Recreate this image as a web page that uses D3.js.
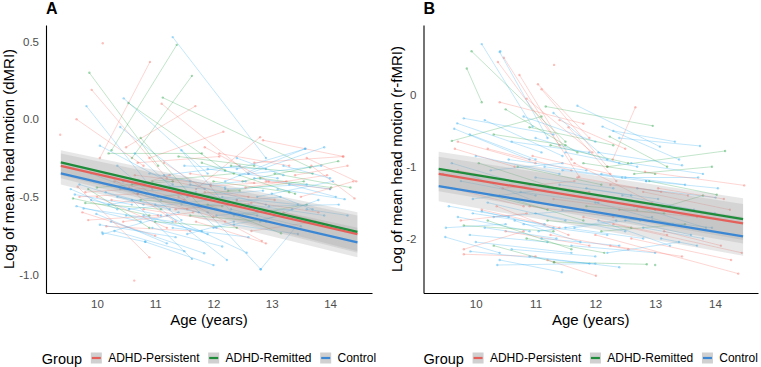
<!DOCTYPE html>
<html>
<head>
<meta charset="utf-8">
<script src="https://cdn.jsdelivr.net/npm/d3@7"></script>
<style>
  body { margin: 0; background: #fff; }
  svg { display: block; font-family: "Liberation Sans", Arial, sans-serif; }
</style>
</head>
<body>
<svg width="761" height="367"></svg>
<script>
// groups and legend labels
const groupKeys = ["P", "R", "C"];
const groupLabels = ["ADHD-Persistent", "ADHD-Remitted", "Control"];

// tick labels
const ageTicks = [10, 11, 12, 13, 14];
const dmriTicks = [0.5, 0.0, -0.5, -1.0];
const rfmriTicks = [0, -1, -2];

// model fit: value at first and last age
const fitAges = [9.38, 14.47];
const dmriFit = { P: [-0.300, -0.740], R: [-0.278, -0.726], C: [-0.349, -0.794] };
const rfmriFit = { P: [-1.10, -1.79], R: [-1.03, -1.73], C: [-1.27, -1.97] };

// confidence bands: [upper, lower] at first and last age
const dmriBand = {
  P: [[-0.22, -0.38], [-0.62, -0.86]],
  R: [[-0.20, -0.36], [-0.60, -0.85]],
  C: [[-0.28, -0.42], [-0.70, -0.89]]
};
const rfmriBand = {
  P: [[-0.86, -1.34], [-1.52, -2.07]],
  R: [[-0.79, -1.27], [-1.44, -2.02]],
  C: [[-1.03, -1.48], [-1.70, -2.24]]
};

// subjects: group, age1, value1, age2, value2 (null = one scan only)
const dmriSubjects = [
  ["P", 10.10, 0.49, null, null], ["P", 9.37, -0.10, null, null], ["P", 10.64, -1.04, null, null],
  ["C", 11.30, 0.53, 12.90, -0.25], ["R", 10.25, -0.20, 11.37, 0.48], ["R", 10.60, -0.25, 11.63, 0.28],
  ["P", 10.05, -0.25, 10.91, 0.37], ["R", 9.87, 0.30, 11.05, -0.30], ["P", 9.91, 0.19, 11.20, -0.38],
  ["C", 9.82, 0.085, 10.95, -0.45], ["P", 9.65, 0.00, 10.80, -0.30], ["C", 10.46, 0.135, 11.90, -0.35],
  ["R", 10.54, 0.105, 12.20, -0.33], ["R", 11.13, 0.14, 13.66, -0.31], ["P", 11.11, 0.10, 12.60, -0.35],
  ["P", 10.50, -0.18, 11.69, 0.085], ["P", 10.90, -0.25, 12.17, -0.08], ["P", 11.70, -0.45, 12.80, -0.115],
  ["P", 12.85, -0.135, 14.23, -0.24], ["C", 12.20, -0.40, 13.57, -0.19], ["C", 12.60, -0.35, 13.90, -0.18],
  ["C", 12.40, -0.32, 13.58, -0.19], ["P", 12.70, -0.28, 14.22, -0.24], ["R", 12.50, -0.40, 14.14, -0.27],
  ["P", 13.60, -0.25, 14.45, -0.40], ["P", 13.68, -0.30, 14.42, -0.51], ["C", 13.10, -0.45, 14.25, -0.515],
  ["R", 12.80, -0.38, 14.02, -0.44], ["C", 10.40, -0.05, 11.60, -0.40], ["C", 10.05, -0.17, 11.30, -0.42],
  ["R", 10.20, -0.22, 11.80, -0.22], ["P", 10.70, -0.28, 12.10, -0.24], ["C", 11.50, -0.30, 12.90, -0.32],
  ["R", 11.80, -0.28, 13.40, -0.48], ["P", 12.10, -0.22, 13.30, -0.30], ["C", 9.62, -0.485, 10.60, -0.55],
  ["R", 9.59, -0.51, 10.90, -0.62], ["P", 9.67, -0.435, 10.90, -0.89], ["C", 9.77, -0.575, 11.30, -0.66],
  ["C", 9.99, -0.61, 11.20, -0.80], ["P", 10.16, -0.69, 11.60, -0.72], ["C", 10.10, -0.74, 11.40, -0.60],
  ["C", 10.24, -0.66, 11.84, -0.864], ["P", 9.70, -0.50, 10.70, -0.48], ["R", 9.80, -0.54, 11.10, -0.58],
  ["C", 10.09, -0.73, 10.83, -0.79], ["C", 10.83, -0.79, 12.00, -0.94], ["C", 10.60, -0.52, 11.63, -0.90],
  ["C", 11.00, -0.55, 12.23, -0.907], ["C", 11.20, -0.62, 12.57, -0.86], ["C", 11.90, -0.60, 12.81, -0.967],
  ["C", 12.81, -0.967, 13.40, -0.70], ["P", 11.40, -0.50, 12.83, -0.785], ["R", 11.90, -0.55, 13.16, -0.735],
  ["C", 12.30, -0.58, 13.50, -0.69], ["P", 10.30, -0.40, 11.50, -0.52], ["C", 10.40, -0.45, 11.70, -0.47],
  ["R", 10.60, -0.42, 11.90, -0.50], ["P", 10.80, -0.58, 12.20, -0.66], ["C", 11.10, -0.45, 12.40, -0.52],
  ["P", 11.30, -0.40, 12.60, -0.50], ["C", 11.60, -0.42, 12.90, -0.55], ["R", 12.00, -0.40, 13.30, -0.47],
  ["C", 12.20, -0.45, 13.60, -0.42], ["P", 12.40, -0.52, 13.80, -0.60], ["C", 12.60, -0.55, 13.90, -0.62],
  ["P", 12.90, -0.40, 14.00, -0.45], ["C", 13.00, -0.48, 13.70, -0.58], ["R", 9.85, -0.45, 10.90, -0.70],
  ["P", 10.00, -0.50, 11.20, -0.70], ["C", 10.20, -0.55, 11.40, -0.48], ["C", 10.50, -0.62, 11.80, -0.72],
  ["P", 10.70, -0.48, 12.00, -0.63], ["R", 11.00, -0.66, 12.40, -0.70], ["C", 11.30, -0.70, 12.60, -0.76],
  ["P", 11.70, -0.66, 12.90, -0.80], ["C", 12.00, -0.70, 13.20, -0.62], ["R", 12.50, -0.62, 13.60, -0.55],
  ["C", 12.80, -0.66, 13.80, -0.52], ["P", 13.20, -0.60, 14.20, -0.70], ["C", 10.90, -0.35, 12.20, -0.44],
  ["P", 11.60, -0.35, 12.70, -0.41], ["C", 11.90, -0.32, 13.10, -0.38], ["R", 12.30, -0.30, 13.70, -0.35],
  ["C", 12.70, -0.38, 14.00, -0.45], ["P", 9.75, -0.60, 11.00, -0.75], ["C", 9.90, -0.52, 11.10, -0.62],
  ["C", 10.35, -0.50, 11.75, -0.60], ["R", 10.75, -0.52, 12.15, -0.56], ["C", 11.45, -0.55, 12.75, -0.62],
  ["P", 11.85, -0.47, 13.05, -0.52], ["C", 12.15, -0.50, 13.45, -0.55], ["C", 13.30, -0.42, 14.10, -0.50],
  ["P", 13.50, -0.50, 14.40, -0.40], ["C", 13.60, -0.58, 14.30, -0.62], ["R", 10.95, -0.40, 12.35, -0.35],
  ["C", 11.15, -0.36, 12.45, -0.30], ["C", 9.70, -0.42, 10.80, -0.55], ["P", 9.80, -0.47, 11.00, -0.44],
  ["C", 9.95, -0.40, 11.10, -0.52], ["R", 10.00, -0.44, 11.30, -0.40], ["C", 10.15, -0.47, 11.25, -0.58],
  ["P", 10.25, -0.52, 11.55, -0.58], ["C", 10.45, -0.40, 11.85, -0.45], ["C", 10.55, -0.58, 11.95, -0.52],
  ["P", 10.65, -0.36, 11.95, -0.42], ["C", 10.85, -0.48, 12.05, -0.58], ["R", 11.05, -0.50, 12.45, -0.46],
  ["C", 11.25, -0.44, 12.55, -0.40], ["P", 11.35, -0.58, 12.65, -0.54], ["C", 11.55, -0.50, 12.85, -0.46],
  ["C", 11.75, -0.56, 13.15, -0.50], ["P", 11.95, -0.43, 13.25, -0.40], ["C", 12.05, -0.62, 13.35, -0.58],
  ["R", 12.25, -0.46, 13.55, -0.40], ["C", 12.45, -0.36, 13.85, -0.30], ["P", 12.55, -0.44, 13.95, -0.36],
  ["C", 12.75, -0.50, 14.05, -0.40], ["C", 12.95, -0.56, 14.15, -0.55], ["R", 13.05, -0.35, 14.35, -0.44],
  ["C", 9.65, -0.56, 10.75, -0.66], ["P", 9.85, -0.65, 11.05, -0.62], ["C", 10.05, -0.68, 11.35, -0.76],
  ["C", 10.30, -0.72, 11.50, -0.85], ["P", 10.45, -0.66, 11.65, -0.60], ["C", 10.95, -0.70, 12.15, -0.82],
  ["C", 11.55, -0.74, 12.35, -0.66], ["P", 11.15, -0.28, 12.25, -0.55], ["C", 10.35, -0.30, 11.45, -0.65],
  ["R", 10.75, -0.12, 11.75, -0.55], ["P", 10.15, -0.35, 11.35, -0.66], ["C", 10.65, -0.22, 12.05, -0.70],
  ["C", 11.45, -0.20, 12.35, -0.62], ["P", 11.85, -0.18, 12.95, -0.40], ["R", 11.40, -0.24, 12.70, -0.30],
  ["C", 12.40, -0.25, 13.20, -0.36], ["C", 13.20, -0.30, 14.00, -0.38], ["P", 13.40, -0.36, 14.30, -0.30],
  ["C", 10.80, -0.62, 11.90, -0.74], ["R", 11.60, -0.62, 12.90, -0.66], ["C", 12.35, -0.68, 13.45, -0.74],
  ["P", 12.65, -0.72, 13.75, -0.66], ["C", 9.90, -0.35, 10.60, -0.45], ["C", 9.55, -0.45, 10.35, -0.58],
  ["P", 10.55, -0.44, 11.25, -0.36]
];

const rfmriSubjects = [
  ["C", 10.10, 0.71, 10.95, -0.44], ["R", 9.93, 0.61, 11.50, -0.65], ["R", 9.85, 0.37, 10.10, -0.10],
  ["P", 10.47, 0.52, 11.73, -1.14], ["P", 10.37, 0.46, 11.40, -0.70], ["C", 10.40, 0.60, 11.20, -0.60],
  ["P", 10.73, 0.28, 11.60, -0.90], ["P", 11.04, 0.15, 11.90, -0.60], ["P", 11.10, 0.08, 12.20, -1.00],
  ["P", 11.31, 0.42, null, null], ["C", 10.41, 0.61, null, null], ["P", 10.40, -0.10, 11.80, -0.40],
  ["C", 9.69, -0.395, 11.10, -0.80], ["C", 9.80, -0.325, 11.30, -0.55], ["C", 9.64, -0.47, 10.90, -0.90],
  ["R", 9.60, -0.64, 11.10, -0.30], ["P", 9.70, -0.65, 11.00, -0.95], ["R", 11.17, -0.16, 12.96, -0.43],
  ["C", 11.70, -0.15, 13.08, -0.72], ["C", 12.30, -0.50, 13.33, -0.65], ["C", 12.40, -0.60, 13.75, -0.71],
  ["R", 12.20, -1.00, 14.17, -0.78], ["P", 12.29, -0.90, 12.67, -0.17], ["R", 12.24, -0.58, 13.20, -1.00],
  ["C", 12.12, -0.44, 13.40, -0.90], ["C", 10.80, -0.30, 12.00, -0.65], ["R", 10.90, -0.45, 12.30, -0.70],
  ["P", 11.40, -0.35, 12.50, -0.75], ["C", 11.00, -0.60, 12.40, -0.95], ["R", 10.30, -0.55, 11.50, -0.70],
  ["C", 10.00, -0.85, 11.40, -1.10], ["P", 10.20, -0.75, 11.60, -1.05], ["C", 11.50, -0.80, 12.70, -1.00],
  ["R", 11.80, -0.95, 13.00, -1.10], ["C", 12.60, -0.95, 13.80, -1.10], ["R", 12.90, -1.20, 14.03, -1.39],
  ["P", 12.80, -1.35, 14.25, -1.60], ["C", 12.70, -1.30, 14.01, -1.43], ["C", 12.50, -1.15, 13.72, -1.15],
  ["P", 12.83, -1.07, 14.49, -1.26], ["P", 12.30, -1.80, 14.45, -2.20], ["P", 12.00, -1.95, 14.39, -2.49],
  ["P", 12.60, -2.00, 14.27, -2.30], ["R", 11.31, -2.33, 12.86, -2.36], ["R", 10.30, -2.10, 11.31, -2.33],
  ["P", 11.20, -2.30, 12.01, -2.52], ["C", 10.40, -2.30, 11.44, -2.47], ["C", 9.50, -1.85, 10.50, -1.80],
  ["C", 9.70, -1.70, 10.90, -1.90], ["P", 9.80, -2.15, 10.80, -1.90], ["C", 9.90, -1.95, 11.20, -2.05],
  ["R", 9.80, -1.82, 11.30, -1.90], ["C", 10.00, -2.05, 11.60, -2.20], ["P", 10.10, -1.60, 11.40, -1.85],
  ["C", 10.20, -1.50, 11.50, -1.75], ["C", 10.30, -1.70, 11.80, -1.60], ["P", 10.50, -1.90, 11.90, -2.10],
  ["C", 10.60, -2.15, 12.00, -2.25], ["R", 10.40, -1.40, 11.80, -1.75], ["C", 10.80, -1.80, 12.20, -1.95],
  ["P", 10.90, -1.55, 12.30, -1.70], ["C", 11.00, -1.65, 12.50, -1.90], ["C", 11.10, -2.00, 12.40, -2.10],
  ["R", 11.20, -1.75, 12.60, -1.85], ["P", 11.30, -1.45, 12.70, -1.60], ["C", 11.50, -1.85, 12.80, -2.00],
  ["C", 11.60, -2.10, 13.00, -2.20], ["P", 11.80, -1.70, 13.20, -1.95], ["C", 12.00, -1.50, 13.30, -1.80],
  ["R", 12.10, -1.90, 13.50, -1.80], ["C", 12.20, -2.20, 13.40, -2.05], ["P", 12.40, -1.60, 13.70, -1.70],
  ["C", 12.50, -1.75, 13.60, -1.95], ["C", 12.80, -1.85, 13.80, -2.00], ["R", 13.00, -1.60, 13.80, -1.40],
  ["C", 13.10, -2.00, 13.70, -2.10], ["P", 9.60, -1.30, 10.80, -1.55], ["C", 9.75, -1.20, 11.00, -1.40],
  ["C", 9.95, -1.45, 11.30, -1.30], ["P", 10.60, -1.20, 11.90, -1.35], ["C", 11.00, -1.15, 12.30, -1.30],
  ["R", 10.70, -1.00, 12.10, -1.25], ["C", 11.40, -1.25, 12.60, -1.40], ["P", 11.70, -1.15, 13.10, -1.35],
  ["C", 12.10, -1.10, 13.50, -1.25], ["C", 9.49, -1.98, 10.40, -2.20], ["P", 9.80, -2.22, 11.00, -2.25],
  ["C", 9.91, -2.18, 11.90, -2.35], ["C", 10.36, -2.37, 12.00, -2.35], ["R", 10.20, -1.75, 11.60, -2.15],
  ["C", 10.10, -1.62, 11.30, -1.85], ["R", 13.00, -2.37, null, null], ["P", 9.45, -1.10, null, null],
  ["C", 9.60, -0.95, 10.60, -1.20], ["P", 9.70, -1.05, 10.90, -1.25], ["C", 9.85, -1.10, 11.05, -1.50],
  ["R", 10.05, -0.95, 11.35, -1.30], ["C", 10.25, -1.05, 11.45, -0.95], ["P", 10.45, -1.30, 11.65, -1.20],
  ["C", 10.55, -0.90, 11.85, -1.05], ["C", 10.75, -1.35, 12.05, -1.50], ["P", 10.95, -0.85, 12.25, -1.10],
  ["C", 11.15, -1.00, 12.45, -1.15], ["R", 11.25, -0.70, 12.55, -0.95], ["C", 11.45, -1.05, 12.85, -1.20],
  ["P", 11.65, -0.95, 12.95, -1.50], ["C", 11.85, -1.30, 13.05, -1.45], ["C", 12.05, -0.80, 13.45, -0.98],
  ["P", 12.25, -1.25, 13.55, -1.40], ["C", 12.45, -1.40, 13.65, -1.60], ["R", 12.65, -1.10, 13.95, -1.00],
  ["C", 12.85, -1.20, 14.05, -1.30], ["P", 13.05, -1.30, 14.15, -1.45], ["C", 9.55, -1.55, 10.55, -1.70],
  ["P", 9.75, -1.75, 10.85, -1.65], ["C", 9.95, -1.65, 11.15, -1.80], ["C", 10.15, -1.85, 11.35, -2.00],
  ["P", 10.35, -1.55, 11.55, -1.95], ["C", 10.65, -1.75, 11.75, -2.05], ["R", 10.85, -2.00, 12.15, -2.20],
  ["C", 11.05, -1.90, 12.35, -1.75], ["P", 11.25, -1.95, 12.55, -2.15], ["C", 11.45, -1.60, 12.75, -1.75],
  ["C", 11.65, -1.85, 12.95, -1.70], ["R", 11.85, -1.55, 13.15, -1.65], ["C", 12.05, -1.75, 13.25, -2.10],
  ["P", 12.25, -2.10, 13.45, -2.25], ["C", 12.65, -1.55, 13.85, -1.85], ["C", 12.95, -1.75, 13.95, -1.85],
  ["P", 13.15, -1.90, 14.10, -2.10], ["C", 13.25, -1.55, 14.00, -1.65], ["P", 9.65, -0.75, 10.65, -1.00],
  ["C", 9.90, -0.55, 11.00, -0.90], ["C", 10.15, -0.35, 11.45, -0.85], ["R", 10.50, -0.20, 11.70, -0.80],
  ["P", 10.85, -0.05, 11.95, -0.80], ["C", 11.30, -0.25, 12.20, -0.90], ["P", 11.55, -0.45, 12.35, -1.20],
  ["C", 10.60, -0.65, 11.90, -0.80], ["R", 10.00, -1.35, 11.20, -1.60], ["C", 10.90, -2.25, 12.40, -2.40]
];

const lineColor = { P: "#F8766D", R: "#34A853", C: "#38B0F2" };
const fitColor = { P: "#E4615B", R: "#1F8C3B", C: "#3B87D4" };

const svg = d3.select("svg");
const ageDomain = [9.126, 14.72];

function drawPanel(p) {
  const x = d3.scaleLinear().domain(ageDomain).range(p.xRange);
  const y = d3.scaleLinear().domain(p.yDomain).range([293, 25]);
  const g = svg.append("g");

  // individual trajectories
  const subj = g.append("g").selectAll("g")
    .data(p.subjects)
    .enter().append("g");

  subj.filter(d => d[3] != null).append("line")
    .attr("x1", d => x(d[1])).attr("y1", d => y(d[2]))
    .attr("x2", d => x(d[3])).attr("y2", d => y(d[4]))
    .attr("stroke", d => lineColor[d[0]])
    .attr("stroke-opacity", 0.38)
    .attr("stroke-width", 0.8);

  subj.selectAll("circle")
    .data(d => d[3] == null ? [[d[0], d[1], d[2]]] : [[d[0], d[1], d[2]], [d[0], d[3], d[4]]])
    .enter().append("circle")
    .attr("cx", d => x(d[1])).attr("cy", d => y(d[2]))
    .attr("r", 1.2)
    .attr("fill", d => lineColor[d[0]])
    .attr("fill-opacity", 0.45);

  // confidence ribbons
  const area = d3.area()
    .x(d => x(d.age))
    .y0(d => y(d.lo))
    .y1(d => y(d.hi));

  groupKeys.forEach(k => {
    const b = p.band[k];
    g.append("path")
      .attr("d", area([
        { age: fitAges[0], hi: b[0][0], lo: b[0][1] },
        { age: fitAges[1], hi: b[1][0], lo: b[1][1] }
      ]))
      .attr("fill", "#999")
      .attr("fill-opacity", 0.24);
  });

  // fitted lines
  const line = d3.line().x(d => x(d[0])).y(d => y(d[1]));
  groupKeys.forEach(k => {
    g.append("path")
      .attr("d", line([[fitAges[0], p.fit[k][0]], [fitAges[1], p.fit[k][1]]]))
      .attr("stroke", fitColor[k])
      .attr("stroke-width", 2.2)
      .attr("fill", "none");
  });

  // axes
  const xAxis = g.append("g")
    .attr("transform", "translate(0,293)")
    .call(d3.axisBottom(x).tickValues(ageTicks).tickSize(0).tickPadding(7).tickFormat(d3.format("d")));
  const yAxis = g.append("g")
    .attr("transform", "translate(" + p.xRange[0] + ",0)")
    .call(d3.axisLeft(y).tickValues(p.ticks).tickSize(0).tickPadding(7).tickFormat(p.fmt));

  [xAxis, yAxis].forEach(a => {
    a.select(".domain").attr("stroke", "#000").attr("stroke-width", 1.1);
    a.selectAll("text").attr("fill", "#4D4D4D").style("font-size", "11.5px");
  });

  // titles
  const midX = (p.xRange[0] + p.xRange[1]) / 2;
  g.append("text")
    .attr("x", midX).attr("y", 325)
    .attr("text-anchor", "middle")
    .style("font-size", "15px")
    .text("Age (years)");

  g.append("text")
    .attr("transform", "translate(" + p.yTitleX + ",159) rotate(-90)")
    .attr("text-anchor", "middle")
    .style("font-size", "15px")
    .text(p.yTitle);

  g.append("text")
    .attr("x", p.xRange[0]).attr("y", 14)
    .style("font-size", "16px")
    .style("font-weight", "bold")
    .text(p.letter);

  // legend
  const leg = g.append("g");
  const title = leg.append("text")
    .attr("y", 363.5)
    .style("font-size", "14.5px")
    .text("Group");
  let cx = title.node().getComputedTextLength() + 8.7;
  groupKeys.forEach((k, i) => {
    leg.append("rect")
      .attr("x", cx).attr("y", 352.5)
      .attr("width", 11).attr("height", 11)
      .attr("fill", "#D0D0D0");
    leg.append("line")
      .attr("x1", cx + 1).attr("x2", cx + 10)
      .attr("y1", 358).attr("y2", 358)
      .attr("stroke", fitColor[k]).attr("stroke-width", 2.2);
    const t = leg.append("text")
      .attr("x", cx + 17.3).attr("y", 362)
      .style("font-size", "12px")
      .text(groupLabels[i]);
    cx += 17.3 + t.node().getComputedTextLength() + (i < 2 ? 8.7 : 0);
  });
  leg.attr("transform", "translate(" + (midX - cx / 2) + ",0)");
}

drawPanel({
  letter: "A",
  xRange: [46, 372],
  yDomain: [-1.12, 0.608],
  ticks: dmriTicks,
  fmt: d => d.toFixed(1),
  subjects: dmriSubjects,
  fit: dmriFit,
  band: dmriBand,
  yTitle: "Log of mean head motion (dMRI)",
  yTitleX: 13.5
});

drawPanel({
  letter: "B",
  xRange: [423.5, 758],
  yDomain: [-2.76, 0.976],
  ticks: rfmriTicks,
  fmt: d => String(d),
  subjects: rfmriSubjects,
  fit: rfmriFit,
  band: rfmriBand,
  yTitle: "Log of mean head motion (r-fMRI)",
  yTitleX: 402
});
</script>
</body>
</html>
